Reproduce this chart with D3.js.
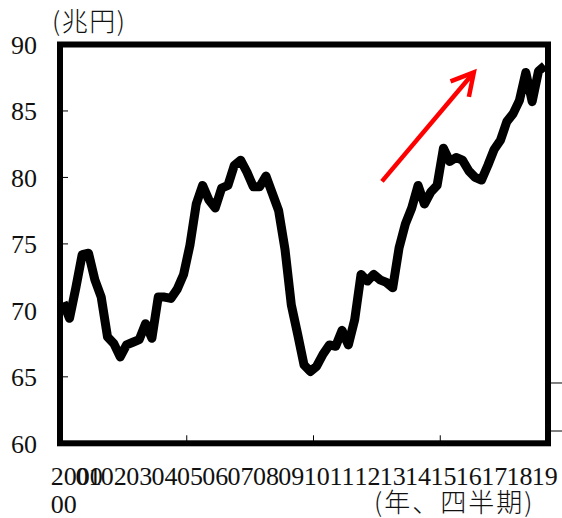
<!DOCTYPE html>
<html><head><meta charset="utf-8">
<script src="https://cdn.jsdelivr.net/npm/d3@7"></script>
<style>body{margin:0;background:#fff}svg{display:block}</style>
</head><body>
<script>
// quarterly values, 2000Q1 .. 2019Q1 (兆円)
const values = [
 70.6,69.4,71.7,74.2, 74.3,72.3,71.0,68.0, 67.5,66.5,67.4,67.6, 67.8,69.0,67.9,71.0,
 71.0,70.9,71.6,72.7, 74.9,78.0,79.4,78.3, 77.7,79.2,79.4,80.9, 81.3,80.4,79.3,79.3,
 80.1,78.8,77.5,74.6, 70.4,68.2,65.9,65.4, 65.8,66.7,67.4,67.3, 68.5,67.4,69.3,72.7,
 72.2,72.7,72.3,72.1, 71.7,74.7,76.5,77.7, 79.4,78.0,78.9,79.4, 82.2,81.2,81.5,81.3,
 80.5,80.0,79.8,80.9, 82.1,82.8,84.2,84.8, 85.8,87.9,85.7,88.0, 88.4
];
const yearLabels = ["2000","01","02","03","04","05","06","07","08","09","10","11","12","13","14","15","16","17","18","19"];
const yTicks = [60,65,70,75,80,85,90];
const yDomain = [60,90];
const xMajorTicks = [20,40,60];   // category boundaries with tick marks
const rightTicks = [0,1];          // secondary axis ticks (unlabelled)
const arrowFrom = {i:50.8, v:79.7};
const arrowTo = {i:65.3, v:87.9};
const unitLabel = "(兆円)";
const xTitle = "(年、四半期)";

const W=562,H=518;
const L=60,R=548,T=44.5,B=443.3;
const svg=d3.select("body").append("svg").attr("width",W).attr("height",H);
const n=values.length;
const x=d3.scaleLinear().domain([0,n]).range([L,R]);
const y=d3.scaleLinear().domain(yDomain).range([B,T]);
const y2=d3.scaleLinear().domain([-0.256,8.05]).range([B,T]);
const serif="'Liberation Serif','DejaVu Serif',serif";
const cjk="'Noto Sans CJK JP','Noto Sans CJK SC',sans-serif";

// data line
svg.append("path").datum(values)
 .attr("d",d3.line().x((d,i)=>x(i+0.5)).y(d=>y(d)))
 .attr("fill","none").attr("stroke","#000").attr("stroke-width",9)
 .attr("stroke-linejoin","round").attr("stroke-linecap","butt");

// inner ticks left
svg.append("g").selectAll("line").data(yTicks.filter(d=>d>60&&d<90)).join("line")
 .attr("x1",L).attr("x2",L+8).attr("y1",d=>y(d)).attr("y2",d=>y(d))
 .attr("stroke","#000").attr("stroke-width",1);
// inner ticks bottom
svg.append("g").selectAll("line").data(xMajorTicks).join("line")
 .attr("x1",d=>x(d)).attr("x2",d=>x(d)).attr("y1",B).attr("y2",B-8)
 .attr("stroke","#000").attr("stroke-width",1);
// right outer ticks
svg.append("g").selectAll("line").data(rightTicks).join("line")
 .attr("x1",R).attr("x2",W).attr("y1",d=>y2(d)).attr("y2",d=>y2(d))
 .attr("stroke","#000").attr("stroke-width",1);

// frame
svg.append("rect").attr("x",L).attr("y",T).attr("width",R-L).attr("height",B-T)
 .attr("fill","none").attr("stroke","#000").attr("stroke-width",6);

// y labels
svg.append("g").selectAll("text").data(yTicks).join("text")
 .attr("x",37).attr("y",d=>y(d)+9.5).attr("text-anchor","end")
 .attr("font-family",serif).attr("font-size",26).attr("fill","#111").text(d=>d);

// x labels
const xl=svg.append("g").attr("font-family",serif).attr("font-size",26).attr("fill","#111");
yearLabels.forEach((lab,k)=>{
  const cx=x(k*4+0.5);
  if(k===0){
    xl.append("text").attr("x",cx-12.5).attr("y",485).text(lab);
    xl.append("text").attr("x",cx-12.5).attr("y",513).text(lab.slice(2));
  } else {
    xl.append("text").attr("x",cx).attr("y",485).attr("text-anchor","middle").text(lab);
  }
});

// titles
svg.append("text").attr("x",52).attr("y",31).attr("font-family",cjk).attr("font-size",26)
 .attr("font-weight",300).attr("letter-spacing",1.5).attr("fill","#111").text(unitLabel);
svg.append("text").attr("x",374).attr("y",512).attr("font-family",cjk).attr("font-size",26)
 .attr("font-weight",300).attr("letter-spacing",2).attr("fill","#111").text(xTitle);

// red arrow
const ax1=x(arrowFrom.i),ay1=y(arrowFrom.v),ax2=x(arrowTo.i),ay2=y(arrowTo.v);
const ang=Math.atan2(ay2-ay1,ax2-ax1),hl=25,ha=0.5;
svg.append("line").attr("x1",ax1).attr("y1",ay1).attr("x2",ax2-3*Math.cos(ang)).attr("y2",ay2-3*Math.sin(ang))
 .attr("stroke","#ff0000").attr("stroke-width",4.5);
svg.append("path")
 .attr("d",`M${ax2-hl*Math.cos(ang-ha)},${ay2-hl*Math.sin(ang-ha)}L${ax2},${ay2}L${ax2-hl*Math.cos(ang+ha)},${ay2-hl*Math.sin(ang+ha)}`)
 .attr("fill","none").attr("stroke","#ff0000").attr("stroke-width",4.5).attr("stroke-linejoin","miter");
</script>
</body></html>
